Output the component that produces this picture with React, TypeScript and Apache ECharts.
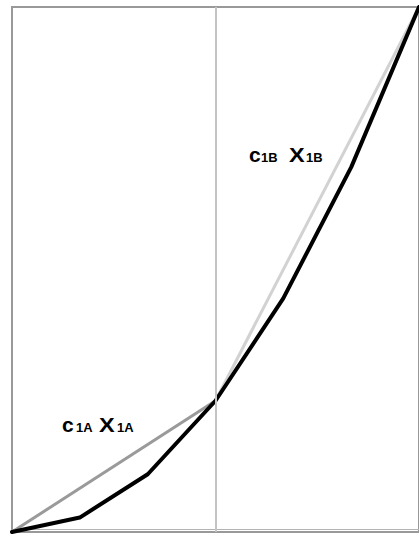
import React, { useEffect, useRef } from "react";
import * as echarts from "echarts";

// Sample points of the convex curve (x) and its values (y)
const curveX = [0, 0.333, 0.667, 1, 1.333, 1.667, 2];
const curveY = [0, 0.11, 0.44, 1, 1.78, 2.78, 4];

// Chord A spans the first half, chord B the second half
const chordAX = [0, 1];
const chordAY = [0, 1];
const chordBX = [1, 2];
const chordBY = [1, 4];

// Divider between the two pieces
const splitX = 1;

const FONT = "'Liberation Sans', Arial, sans-serif";

function pairs(xs: number[], ys: number[]) {
  return xs.map((x, i) => [x, ys[i]]);
}

function label(x: number, baseline: number, main1: string, sub1: string, main2: string, sub2: string, offs: number[]) {
  const big = 21;
  const small = 12;
  const mk = (text: string, dx: number, size: number, stretch = 1) => ({
    type: "text",
    x: x + dx,
    y: baseline + size * 0.153,
    scaleX: stretch,
    style: {
      text,
      fill: "#000",
      fontSize: size,
      fontWeight: "bold",
      fontFamily: FONT,
      verticalAlign: "bottom",
      align: "left",
    },
  });
  return {
    type: "group",
    children: [
      mk(main1, offs[0], big),
      mk(sub1, offs[1], small, 1.08),
      mk(main2, offs[2], big, 1.12),
      mk(sub2, offs[3], small, 1.08),
    ],
  };
}

export default function App() {
  const ref = useRef<HTMLDivElement>(null);

  useEffect(() => {
    if (!ref.current) return;
    const chart = echarts.init(ref.current, undefined, { renderer: "svg" });
    chart.setOption({
      animation: false,
      backgroundColor: "#fff",
      grid: {
        left: 12,
        top: 7,
        width: 412,
        height: 525,
        show: true,
        borderColor: "#999",
        borderWidth: 2,
        backgroundColor: "transparent",
      },
      xAxis: {
        type: "value",
        min: 0,
        max: 2,
        offset: -3,
        axisLine: { show: true, onZero: false, lineStyle: { color: "#b4b4b4", width: 1 } },
        axisTick: { show: false },
        axisLabel: { show: false },
        splitLine: { show: false },
      },
      yAxis: {
        type: "value",
        min: 0,
        max: 4,
        axisLine: { show: false },
        axisTick: { show: false },
        axisLabel: { show: false },
        splitLine: { show: false },
      },
      series: [
        {
          type: "line",
          data: pairs(chordAX, chordAY),
          symbol: "none",
          lineStyle: { color: "#9a9a9a", width: 3 },
          z: 2,
          markLine: {
            silent: true,
            symbol: "none",
            label: { show: false },
            lineStyle: { color: "#c4c4c4", width: 2, type: "solid" },
            data: [{ xAxis: splitX }],
          },
        },
        {
          type: "line",
          data: pairs(chordBX, chordBY),
          symbol: "none",
          lineStyle: { color: "#d2d2d2", width: 3 },
          z: 2,
        },
        {
          type: "line",
          data: pairs(curveX, curveY),
          symbol: "none",
          lineStyle: { color: "#000", width: 4, join: "round", cap: "round" },
          z: 3,
        },
      ],
      graphic: [
        label(62, 432, "c", "1A", "X", "1A", [0, 14, 37, 55]),
        label(249, 162, "c", "1B", "X", "1B", [0, 12, 40, 57]),
      ],
    });
    return () => chart.dispose();
  }, []);

  return (
    <div
      ref={ref}
      style={{ position: "fixed", left: 0, top: 0, width: 419, height: 534, background: "#fff" }}
    />
  );
}
